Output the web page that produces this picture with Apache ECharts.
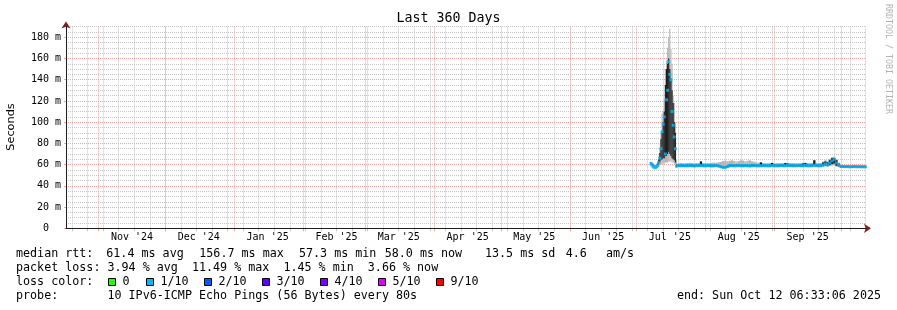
<!DOCTYPE html>
<html><head><meta charset="utf-8">
<script src="https://cdn.jsdelivr.net/npm/echarts@6/dist/echarts.min.js"></script>
<style>html,body{margin:0;padding:0;background:#fff;}#c{width:897px;height:310px;}</style>
</head><body><div id="c"></div>
<script>
// ---------- texts / ticks ----------
const chartTitle = 'Last 360 Days';
const yAxisName = 'Seconds';
const sideNote = 'RRDTOOL / TOBI OETIKER';
const endTime = '2025-10-12T06:33:06Z';
const spanDays = 360;
const monthStarts = ['2024-11-01','2024-12-01','2025-01-01','2025-02-01','2025-03-01','2025-04-01','2025-05-01','2025-06-01','2025-07-01','2025-08-01','2025-09-01','2025-10-01'];
const monthLabels = ["Nov '24","Dec '24","Jan '25","Feb '25","Mar '25","Apr '25","May '25","Jun '25","Jul '25","Aug '25","Sep '25"];
const firstWeekLine = '2024-10-20';
const yTicks = [0,20,40,60,80,100,120,140,160,180];
const yMax = 190;

// ---------- data (ms) ----------
const dataOrigin = '2025-07-01';
// spike section: days 6.5 .. 18 after origin, every half day
const spikeStartDay = 6.5;
const spikeMin      = [58,58,57,56,56,56,57,58,59,60,60,61,61,62,62,62,63,63,63,62,62,61,60,57];
const spikeCoreLow  = [60,59,58,57,57,57,58,60,62,64,65,66,66,68,68,70,72,70,68,66,65,64,62,58];
const spikeCoreHigh = [62,61,60,59,58.5,59,61,65,71,84,92,100,110,135,150,155,160,150,141,130,118,100,90,60];
const spikeMax      = [63,62,61,60,60,61,63,68,76,90,108,110,122,150,158,170,180,188,169,155,125,118,100,64];
const spikeMedian   = [61,60,58,57.5,57.5,58,59,62,66,75,91,98,105,70,121,130,157,145,140,110,97,86,75,58.5];
// steady section: days 19 .. 103 after origin, daily
const baseStartDay = 19;
const baseMedian = [59.2,59.0,59.1,58.9,59.0,59.2,59.0,58.8,59.0,59.1, 59.4,
  59.0,58.9,59.1,59.0,58.8,59.0,59.1,58.7, 58.0,57.4,57.5,58.2,
  59.0,59.1,58.9,59.0,59.2,59.0,58.9,59.1,59.0,58.8,59.0,59.1,59.0,58.9,
  59.0,59.1,59.0,58.9,59.0,59.2,59.0,58.9,59.0,59.1,
  59.0,59.0,59.3,59.1,59.0,58.9,59.0,59.1,59.0,59.0,
  59.2,59.0,58.9,59.0,59.4,59.1,59.0,59.0,
  59.6,60.5,59.8,61.5,63.5,65.0,61.5,59.8,
  58.3,58.2,58.1,58.2,58.0,58.1,58.2,58.0,58.1,58.0,58.0,58.0];
const baseMax = [61.3,61.5,61.2,61.6,61.4,61.8,61.5,61.3,61.6,61.5, 63.5,
  61.6,61.4,61.8,61.5,61.7,62.0,61.8,62.2, 62.5,63.5,63.8,63.2,
  63.6,64.0,63.4,62.8,63.5,64.2,63.8,63.0,63.6,64.0,63.2,62.6,62.0,61.8,
  62.4,61.6,61.5,61.4,61.6,61.8,61.5,61.4,61.6,61.5,
  61.4,61.8,61.6,61.5,61.4,61.6,61.3,61.5,61.4,61.7,
  61.8,61.5,61.4,61.6,64.2,61.8,61.5,61.6,
  63.0,64.0,63.0,65.5,67.0,67.5,65.0,62.0,
  59.6,59.5,59.4,59.6,59.5,59.4,59.5,59.6,59.4,59.5,59.4,59.5];
const baseCoreHigh = [60.2,60.0,60.1,59.9,60.0,60.2,60.0,59.8,60.0,60.1, 63.0,
  60.0,59.9,60.1,60.0,59.8,60.0,60.1,59.7, 59.0,58.4,58.5,59.2,
  60.0,60.1,59.9,60.0,60.2,60.0,59.9,60.1,60.0,59.8,60.0,60.1,60.0,59.9,
  62.0,60.1,60.0,59.9,60.0,61.6,60.0,59.9,60.0,60.1,
  60.0,61.4,61.0,60.1,60.0,59.9,60.0,60.1,60.0,61.0,
  61.4,60.0,59.9,60.0,64.0,60.1,60.0,60.0,
  62.0,63.0,62.0,64.0,66.0,66.0,64.0,61.0,
  59.0,58.9,58.8,58.9,58.8,58.8,58.9,58.8,58.8,58.8,58.8,58.8];
const baseCoreLow = [58.3,58.2,58.3,58.1,58.2,58.3,58.2,58.0,58.2,58.3, 58.5,
  58.2,58.1,58.3,58.2,58.0,58.2,58.3,57.9, 57.2,56.7,56.8,57.4,
  58.2,58.3,58.1,58.2,58.4,58.2,58.1,58.3,58.2,58.0,58.2,58.3,58.2,58.1,
  58.2,58.3,58.2,58.1,58.2,58.4,58.2,58.1,58.2,58.3,
  58.2,58.2,58.5,58.3,58.2,58.1,58.2,58.3,58.2,58.2,
  58.4,58.2,58.1,58.2,58.6,58.3,58.2,58.2,
  58.6,59.2,58.6,59.6,60.5,61.0,59.0,58.4,
  57.5,57.4,57.3,57.4,57.2,57.3,57.4,57.2,57.3,57.2,57.2,57.2];
const baseMin = [57.7,57.6,57.7,57.5,57.6,57.7,57.6,57.4,57.6,57.7, 57.8,
  57.6,57.5,57.7,57.6,57.4,57.6,57.7,57.3, 56.6,56.1,56.2,56.8,
  57.6,57.7,57.5,57.6,57.8,57.6,57.5,57.7,57.6,57.4,57.6,57.7,57.6,57.5,
  57.6,57.7,57.6,57.5,57.6,57.8,57.6,57.5,57.6,57.7,
  57.6,57.6,57.9,57.7,57.6,57.5,57.6,57.7,57.6,57.6,
  57.8,57.6,57.5,57.6,58.0,57.7,57.6,57.6,
  58.0,58.4,58.0,58.6,59.0,59.5,58.2,57.8,
  56.9,56.8,56.7,56.8,56.6,56.7,56.8,56.6,56.7,56.6,56.6,56.6];

// ---------- legend ----------
const rttParts = ['median rtt:','61.4 ms avg','156.7 ms max','57.3 ms min','58.0 ms now','13.5 ms sd','4.6','am/s'];
const lossLine = 'packet loss: 3.94 % avg  11.49 % max  1.45 % min  3.66 % now';
const lossColorTitle = 'loss color:';
const lossLabels = ['0','1/10','2/10','3/10','4/10','5/10','9/10'];
const lossColors = ['#26ff00','#00b8ff','#0059ff','#5e00ff','#7e00ff','#dd00ff','#ff0000'];
const probeLine = 'probe:       10 IPv6-ICMP Echo Pings (56 Bytes) every 80s';
const endLine = 'end: Sun Oct 12 06:33:06 2025';

// ---------- build ----------
const DAY = 86400000;
const endMs = Date.parse(endTime);
const startMs = endMs - spanDays * DAY;
const originMs = Date.parse(dataOrigin);
const times = [], widths = [];
spikeMedian.forEach((_, i) => { times.push(originMs + (spikeStartDay + i * 0.5) * DAY); widths.push(0.5 * DAY); });
baseMedian.forEach((_, i) => { times.push(originMs + (baseStartDay + i) * DAY); widths.push(DAY); });
const allMed = spikeMedian.concat(baseMedian);
const allMin = spikeMin.concat(baseMin);
const allMax = spikeMax.concat(baseMax);
const allCL = spikeCoreLow.concat(baseCoreLow);
const allCH = spikeCoreHigh.concat(baseCoreHigh);
const bandData = (lo, hi) => hi.map((v, i) => [times[i], lo[i], v, widths[i]]);

const monthMs = monthStarts.map(s => Date.parse(s));
const labelPos = monthLabels.map((_, i) => monthMs[i] + 15 * DAY);
const weekMs = [];
for (let t = Date.parse(firstWeekLine); t < endMs; t += 7 * DAY) weekMs.push(t);

const MONO = '"DejaVu Sans Mono"';
const minorC = '#c6c6c6', majorC = '#ffa0a0', axisC = '#1e1e1e', arrowC = '#7f1f1f';

const xBase = {type:'value', position:'bottom', min:startMs, max:endMs, axisLabel:{show:false}, axisLine:{show:false, onZero:false}, axisTick:{show:false}, splitLine:{show:false}};
const yBase = {type:'value', position:'left', min:0, max:yMax, axisLabel:{show:false}, axisLine:{show:false, onZero:false}, axisTick:{show:false}, splitLine:{show:false}};

const txt = (text, x, y, extra) => ({type:'text', x, y, silent:true, z:10,
  style:Object.assign({text, font:'11.7px ' + MONO, fill:'#000', align:'left', verticalAlign:'middle', textAlign:'left', textVerticalAlign:'middle'}, extra || {})});

const rttX = [16, 106.3, 199.3, 299, 384.7, 485, 565.7, 606];
const boxX = [108, 146, 204, 262, 320, 378, 436];
const graphics = [];
graphics.push(txt(chartTitle, 448.5, 19, {font:'13.3px ' + MONO, align:'center', textAlign:'center'}));
graphics.push({type:'text', x:11, y:127, rotation:Math.PI/2, silent:true,
  style:{text:yAxisName, font:'11.3px "DejaVu Sans"', fill:'#000', align:'center', verticalAlign:'middle', textAlign:'center', textVerticalAlign:'middle'}});
graphics.push({type:'text', x:888.5, y:59, rotation:-Math.PI/2, silent:true,
  style:{text:sideNote, font:'8.3px ' + MONO, fill:'#b4b4b4', align:'center', verticalAlign:'middle', textAlign:'center', textVerticalAlign:'middle'}});
rttParts.forEach((p, i) => graphics.push(txt(p, rttX[i], 254)));
graphics.push(txt(lossLine, 16, 268));
graphics.push(txt(lossColorTitle, 16, 282));
lossLabels.forEach((l, i) => {
  graphics.push({type:'rect', silent:true, z:10, shape:{x:boxX[i] + 0.5, y:278.5, width:7, height:7},
    style:{fill:lossColors[i], stroke:'#000', lineWidth:1}});
  graphics.push(txt(l, boxX[i] + 14.5, 282));
});
graphics.push(txt(probeLine, 16, 296));
graphics.push(txt(endLine, 881, 296, {align:'right', textAlign:'right'}));

function columnSeries(data, color, z) {
  return {type:'custom', data, z, silent:true, clip:true,
    encode:{x:0, y:[1,2]},
    renderItem:(params, api) => {
      const t = api.value(0), lo = api.value(1), hi = api.value(2), w = api.value(3);
      const a = api.coord([t - w / 2, hi]);
      const b = api.coord([t + w / 2, lo]);
      return {type:'rect', shape:{x:a[0], y:a[1], width:Math.max(b[0] - a[0], 0.8), height:Math.max(b[1] - a[1], 0.5)},
        style:{fill:color}};
    }};
}

const chart = echarts.init(document.getElementById('c'), null, {renderer:'canvas'});
chart.setOption({
  animation:false,
  backgroundColor:'#ffffff',
  grid:{left:66, right:31, top:26.6, bottom:81.7},
  xAxis:[
    Object.assign({}, xBase, {z:1, axisTick:{show:true, customValues:weekMs, length:3, lineStyle:{color:minorC}},
      splitLine:{show:true, lineStyle:{color:minorC, type:[1,1], width:1}}}),
    Object.assign({}, xBase, {z:2, axisTick:{show:true, customValues:monthMs, length:3, lineStyle:{color:majorC}},
      splitLine:{show:true, lineStyle:{color:majorC, type:[1,1], width:1}},
      axisLine:{show:true, onZero:false, lineStyle:{color:arrowC}, symbol:['none','arrow'], symbolSize:[7,7], symbolOffset:[0,5]}}),
    Object.assign({}, xBase, {z:3, axisLabel:{show:true, customValues:labelPos, margin:4,
      formatter:(v, i) => { const k = labelPos.indexOf(v); return monthLabels[k >= 0 ? k : i]; },
      fontFamily:'DejaVu Sans Mono', fontSize:10, color:'#000'}}),
    Object.assign({}, xBase, {z:6, axisLine:{show:true, onZero:false, lineStyle:{color:axisC}}})
  ],
  yAxis:[
    Object.assign({}, yBase, {z:1, interval:5, splitLine:{show:true, lineStyle:{color:minorC, type:[1,1], width:1}}}),
    Object.assign({}, yBase, {z:2, axisTick:{show:true, customValues:yTicks, length:2, lineStyle:{color:majorC}},
      splitLine:{show:true, lineStyle:{color:majorC, type:[1,1], width:1}},
      axisLabel:{show:true, customValues:yTicks, margin:5, formatter:v => v === 0 ? '0  ' : v + ' m',
        fontFamily:'DejaVu Sans Mono', fontSize:10, color:'#000'},
      axisLine:{show:true, onZero:false, lineStyle:{color:arrowC}, symbol:['none','arrow'], symbolSize:[7,7], symbolOffset:[0,5]}}),
    Object.assign({}, yBase, {z:6, axisLine:{show:true, onZero:false, lineStyle:{color:axisC}}})
  ],
  series:[
    columnSeries(bandData(allMin, allMax), '#b4b4b4', 3),
    columnSeries(bandData(allCL, allCH), '#1c1c1c', 4),
    {type:'scatter', data:allMed.map((v, i) => [times[i], v]), symbol:'rect', symbolSize:[3,3], silent:true, z:5,
      itemStyle:{color:'#00b8ff'}}
  ],
  graphic:graphics
});
</script></body></html>
